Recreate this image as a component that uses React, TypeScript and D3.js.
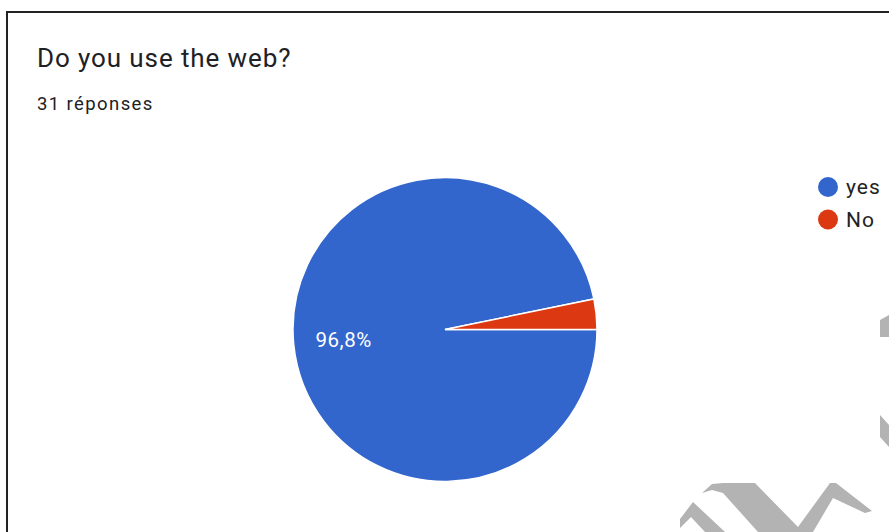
import React from "react";
import * as d3 from "d3";

const title = "Do you use the web?";
const subtitle = "31 réponses";
const categories = ["yes", "No"];
const counts = [30, 1];
const colors = ["#3366cc", "#dc3912"];

const W = 889;
const H = 532;

// watermark fragments (decorative logo pieces at bottom right)
const watermark: [number, number][][] = [
  [[680, 519], [693, 502], [725, 532], [705, 532], [691, 517], [680, 528]],
  [[702, 493], [712, 484], [723, 483], [755, 483], [798, 527], [830, 483], [836, 483], [872, 511], [865, 513], [833, 498], [813, 532], [758, 532], [723, 493], [712, 490]],
  [[880, 320], [889, 315], [889, 337], [880, 337]],
  [[880, 415], [889, 425], [889, 447], [880, 437]],
];

export default function App() {
  const cx = 445;
  const cy = 329.5;
  const r = 152;
  const total = d3.sum(counts);
  const pie = d3
    .pie<number>()
    .sort(null)
    .startAngle(Math.PI / 2)
    .endAngle(Math.PI / 2 + 2 * Math.PI);
  const arcs = pie(counts);
  const arcGen = d3.arc<d3.PieArcDatum<number>>().innerRadius(0).outerRadius(r);
  const labelArc = d3.arc<d3.PieArcDatum<number>>().innerRadius(r * 0.67).outerRadius(r * 0.67);
  const fmt = (v: number) => (Math.round((v / total) * 1000) / 10).toFixed(1).replace(".", ",") + "%";

  return (
    <svg width={W} height={H} style={{ position: "absolute", left: 0, top: 0, background: "#fff" }}>
      <rect x={0} y={0} width={W} height={H} fill="#fff" />
      <rect x={7} y={12} width={W + 20} height={H + 20} fill="none" stroke="#222" strokeWidth={2} />
      <text x={37} y={67} fontFamily="Roboto, 'Noto Sans', sans-serif" fontSize={26} letterSpacing={0.9} fill="#202124">
        {title}
      </text>
      <text x={37} y={110} fontFamily="Roboto, 'Noto Sans', sans-serif" fontSize={18.5} letterSpacing={1.4} fill="#202124">
        {subtitle}
      </text>
      <g transform={`translate(${cx},${cy})`}>
        {arcs.map((a, i) => (
          <path key={i} d={arcGen(a) || ""} fill={colors[i]} stroke="#fff" strokeWidth={1.5} />
        ))}
        {arcs.map((a, i) => {
          if (a.data / total < 0.05) return null;
          const [lx, ly] = labelArc.centroid(a);
          return (
            <text
              key={"l" + i}
              x={lx}
              y={ly}
              dy="0.35em"
              textAnchor="middle"
              fontFamily="Roboto, Arial, sans-serif"
              fontSize={20.5}
              letterSpacing={0.6}
              fill="#fff"
            >
              {fmt(a.data)}
            </text>
          );
        })}
      </g>
      <g fontFamily="Roboto, Arial, sans-serif" fontSize={21} letterSpacing={1} fill="#222">
        {categories.map((c, i) => (
          <g key={c} transform={`translate(828,${187 + i * 32.5})`}>
            <circle r={10} fill={colors[i]} />
            <text x={18} y={0} dy="0.35em">
              {c}
            </text>
          </g>
        ))}
      </g>
      {watermark.map((p, i) => (
        <polygon key={i} points={p.map((q) => q.join(",")).join(" ")} fill="#b3b3b3" />
      ))}
    </svg>
  );
}
